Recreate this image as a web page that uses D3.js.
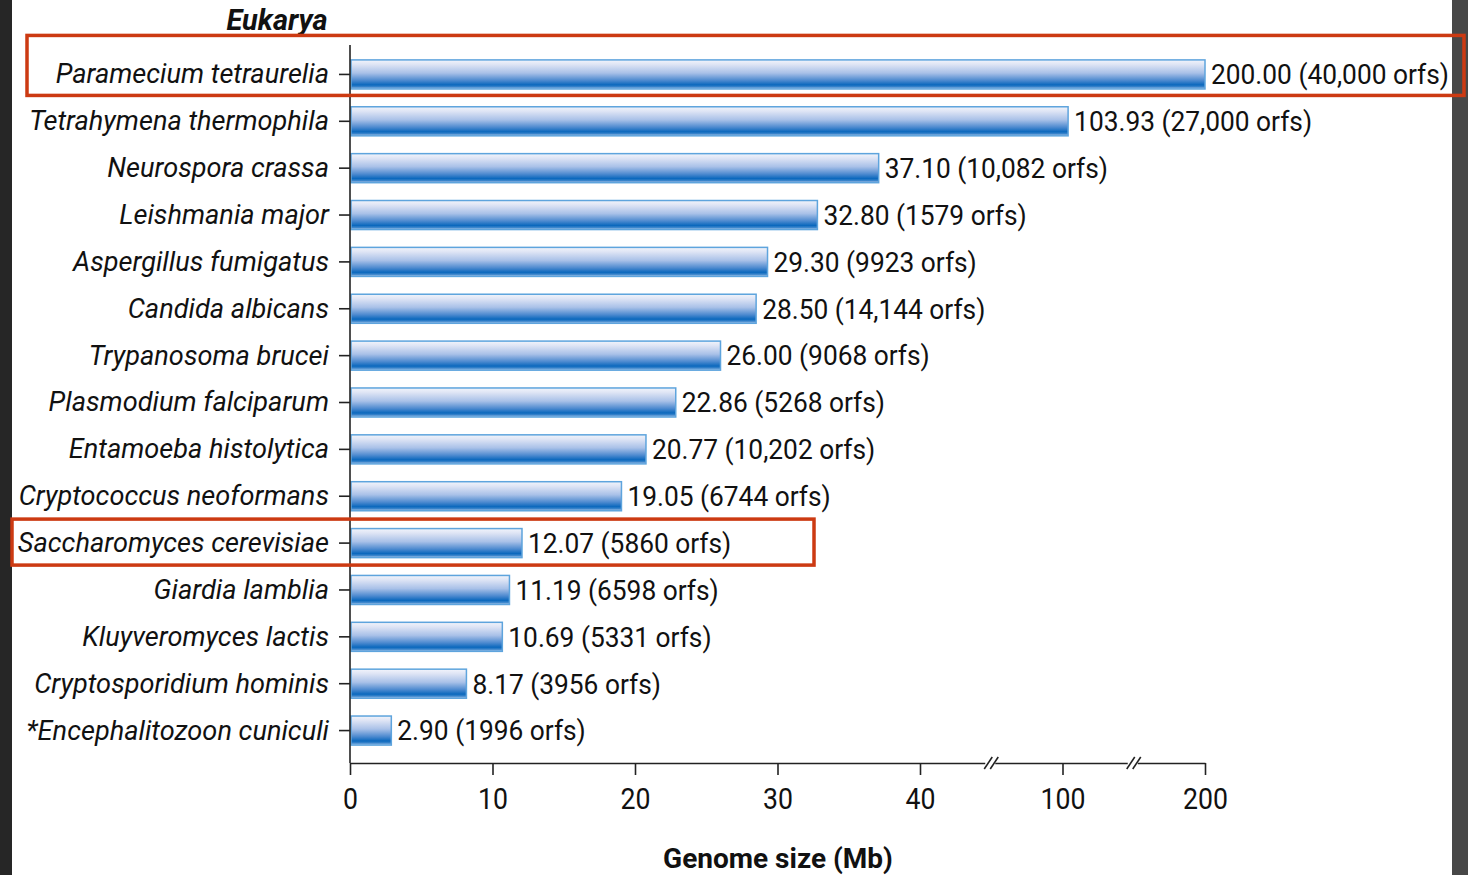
<!DOCTYPE html>
<html>
<head>
<meta charset="utf-8">
<script src="https://cdn.jsdelivr.net/npm/d3@7"></script>
<style>
  html, body { margin: 0; padding: 0; background: #ffffff; }
  svg { display: block; }
  text { font-family: Roboto, "Liberation Sans", Arial, sans-serif; fill: #111; }
</style>
</head>
<body>
<svg id="chart" width="1468" height="875"></svg>
<script>
// Eukaryotic genome sizes (Mb) and predicted open reading frames
const species = [
  "Paramecium tetraurelia",
  "Tetrahymena thermophila",
  "Neurospora crassa",
  "Leishmania major",
  "Aspergillus fumigatus",
  "Candida albicans",
  "Trypanosoma brucei",
  "Plasmodium falciparum",
  "Entamoeba histolytica",
  "Cryptococcus neoformans",
  "Saccharomyces cerevisiae",
  "Giardia lamblia",
  "Kluyveromyces lactis",
  "Cryptosporidium hominis",
  "*Encephalitozoon cuniculi"
];
const genomeSizes = [200.00, 103.93, 37.10, 32.80, 29.30, 28.50, 26.00, 22.86, 20.77, 19.05, 12.07, 11.19, 10.69, 8.17, 2.90];
const orfCounts = [40000, 27000, 10082, 1579, 9923, 14144, 9068, 5268, 10202, 6744, 5860, 6598, 5331, 3956, 1996];
const tickValues = [0, 10, 20, 30, 40, 100, 200];
const highlighted = ["Paramecium tetraurelia", "Saccharomyces cerevisiae"];
const groupTitle = "Eukarya";
const axisTitle = "Genome size (Mb)";

const svg = d3.select("#chart");
const W = 1468, H = 875;

// side strips of the page frame
svg.append("rect").attr("x", 0).attr("y", 0).attr("width", 12).attr("height", H).attr("fill", "#262626");
svg.append("rect").attr("x", 1452).attr("y", 0).attr("width", W - 1452).attr("height", H).attr("fill", "#474747");

const x0 = 350, xEnd = 1205;
const plotTop = 51, plotBottom = 754;

// broken axis: ticks equally spaced, linear between each pair of ticks
const tickStep = (xEnd - x0) / (tickValues.length - 1);
const x = d3.scaleLinear()
  .domain(tickValues)
  .range(tickValues.map((_, i) => x0 + i * tickStep));

const y = d3.scaleBand()
  .domain(species)
  .range([plotTop, plotBottom])
  .paddingInner(0.38)
  .paddingOuter(0.19);

// bar gradient
const defs = svg.append("defs");
const grad = defs.append("linearGradient").attr("id", "barGrad")
  .attr("x1", 0).attr("y1", 0).attr("x2", 0).attr("y2", 1);
[[0, "#f2f4fb"], [0.15, "#dfe5f5"], [0.45, "#a9c1e8"], [0.7, "#4f8bd0"], [0.86, "#0b68bd"], [0.93, "#3c86cc"], [1, "#b9cfee"]]
  .forEach(([o, c]) => grad.append("stop").attr("offset", o).attr("stop-color", c));

const orfFmt = n => n >= 10000 ? d3.format(",")(n) : String(n);

const rows = species.map((s, i) => ({ name: s, size: genomeSizes[i], orfs: orfCounts[i] }));

// bars
svg.append("g").selectAll("rect").data(rows).join("rect")
  .attr("x", x(0) + 1)
  .attr("y", d => y(d.name))
  .attr("width", d => x(d.size) - x(0) - 1)
  .attr("height", y.bandwidth())
  .attr("fill", "url(#barGrad)")
  .attr("stroke", "#5ea4dd")
  .attr("stroke-width", 1.5);

// value labels (slightly condensed type)
svg.append("g").selectAll("text").data(rows).join("text")
  .attr("transform", d => `translate(${x(d.size) + 6},${y(d.name) + y.bandwidth() / 2}) scale(0.94,1)`)
  .attr("dy", "0.35em")
  .attr("font-size", 28)
  .text(d => `${d.size.toFixed(2)} (${orfFmt(d.orfs)} orfs)`);

// category axis
const yAxis = svg.append("g").attr("transform", `translate(${x0},0)`)
  .call(d3.axisLeft(y).tickSize(11).tickPadding(10));
yAxis.select(".domain").attr("d", `M0,${45}V${763}`).attr("stroke", "#222").attr("stroke-width", 1.6);
yAxis.selectAll(".tick line").attr("stroke", "#222").attr("stroke-width", 1.6);
yAxis.selectAll(".tick text")
  .attr("x", 0)
  .attr("transform", "translate(-21,0) scale(0.97,1)")
  .attr("font-size", 28)
  .attr("font-style", "italic")
  .attr("font-family", "Roboto, 'Liberation Sans', Arial, sans-serif")
  .attr("fill", "#111");

// value axis
const axisY = 763;
const xAxis = svg.append("g").attr("transform", `translate(0,${axisY})`)
  .call(d3.axisBottom(x).tickValues(tickValues).tickFormat(d3.format("d")).tickSize(12).tickSizeOuter(0).tickPadding(13));
xAxis.select(".domain").attr("stroke", "#222").attr("stroke-width", 1.6);
xAxis.selectAll(".tick line").attr("stroke", "#222").attr("stroke-width", 1.6);
xAxis.selectAll(".tick text")
  .attr("transform", "scale(0.92,1)")
  .attr("font-size", 29)
  .attr("font-family", "Roboto, 'Liberation Sans', Arial, sans-serif")
  .attr("fill", "#111");

// break marks midway between 40|100 and 100|200
const breaks = [d3.mean([x(40), x(100)]), d3.mean([x(100), x(200)])];
const brk = svg.append("g");
breaks.forEach(bx => {
  brk.append("rect").attr("x", bx - 6).attr("y", axisY - 3).attr("width", 10).attr("height", 6).attr("fill", "#fff");
  [-3, 3].forEach(off => {
    brk.append("line")
      .attr("x1", bx + off - 4).attr("y1", axisY + 6)
      .attr("x2", bx + off + 4).attr("y2", axisY - 6)
      .attr("stroke", "#222").attr("stroke-width", 1.6);
  });
});

// titles
svg.append("text")
  .attr("x", 277).attr("y", 30)
  .attr("text-anchor", "middle")
  .attr("font-size", 29).attr("font-weight", "bold").attr("font-style", "italic")
  .text(groupTitle);

svg.append("text")
  .attr("x", 778).attr("y", 868)
  .attr("text-anchor", "middle")
  .attr("font-size", 28).attr("font-weight", "bold")
  .text(axisTitle);

// highlight frames around two rows
const boxes = [
  { name: highlighted[0], left: 27, right: 1464, up: 39, h: 60 },
  { name: highlighted[1], left: 12, right: 814, up: 24, h: 46 }
];
svg.append("g").selectAll("rect").data(boxes).join("rect")
  .attr("x", d => d.left)
  .attr("y", d => y(d.name) + y.bandwidth() / 2 - d.up)
  .attr("width", d => d.right - d.left)
  .attr("height", d => d.h)
  .attr("fill", "none")
  .attr("stroke", "#cc3a12")
  .attr("stroke-width", 3.5);
</script>
</body>
</html>
